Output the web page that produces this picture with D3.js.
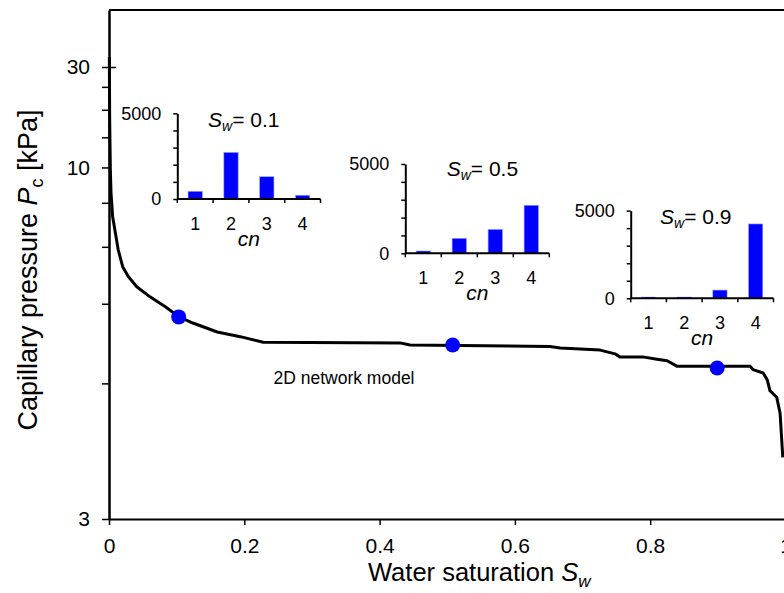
<!DOCTYPE html>
<html>
<head>
<meta charset="utf-8">
<script src="https://cdn.jsdelivr.net/npm/d3@7"></script>
<style>
  body { margin: 0; background: #fff; }
  svg { display: block; font-family: "Liberation Sans", Arial, sans-serif; }
</style>
</head>
<body>
<svg id="chart" width="784" height="593"></svg>
<script>
// =================================================================
// DATA
// =================================================================
const swCurve = [0.0005, 0.001, 0.002, 0.003, 0.0054, 0.0137, 0.0202, 0.0285, 0.041, 0.0606,
                 0.0828, 0.1035, 0.124, 0.160, 0.194, 0.228, 0.430, 0.445, 0.652, 0.667,
                 0.726, 0.748, 0.755, 0.789, 0.810, 0.825, 0.840, 0.948, 0.952, 0.967,
                 0.973, 0.977, 0.987, 0.992, 0.996];
const pcCurve = [37.4, 14.6, 9.83, 8.55, 7.53, 6.46, 6.03, 5.80, 5.58, 5.38,
                 5.20, 5.02, 4.92, 4.78, 4.71, 4.63, 4.62, 4.59, 4.57, 4.55,
                 4.52, 4.47, 4.43, 4.43, 4.40, 4.38, 4.31, 4.31, 4.27, 4.23,
                 4.15, 4.03, 3.96, 3.80, 3.42];

const swDots = [0.103, 0.508, 0.899];
const pcDots = [5.02, 4.59, 4.29];

const cnCategories = ["1", "2", "3", "4"];
const countsSw01 = [450, 2720, 1300, 220];
const countsSw05 = [130, 840, 1340, 2690];
const countsSw09 = [70, 70, 470, 4240];
const insetSw = ["0.1", "0.5", "0.9"];

const xTicks = [0, 0.2, 0.4, 0.6, 0.8, 1];
const yMajorTicks = [3, 10, 30];
const yMinorTicks = [4.11, 5.25, 6.55, 8.1, 12.5, 16.2, 21.5];
const insetTicks = [0, 1000, 2000, 3000, 4000, 5000];

// =================================================================
// MAIN CHART
// =================================================================
const svg = d3.select("#chart");
const plotLeft = 109, plotRight = 785.5, plotTop = 10, plotBottom = 519;

const x = d3.scaleLinear().domain([0, 1]).range([plotLeft, plotRight]);
// vertical axis is linear in 1/Pc
const yInv = d3.scaleLinear().domain([1 / 3, -0.0045]).range([plotBottom, plotTop]);
const y = p => yInv(1 / p);

// frame
svg.append("line")
    .attr("x1", plotLeft).attr("x2", plotRight).attr("y1", plotTop).attr("y2", plotTop)
    .attr("stroke", "#000").attr("stroke-width", 2);
svg.append("line")
    .attr("x1", plotRight).attr("x2", plotRight).attr("y1", plotTop).attr("y2", plotBottom)
    .attr("stroke", "#000").attr("stroke-width", 2);

// x axis
const xAxis = svg.append("g")
    .attr("transform", `translate(0,${plotBottom})`)
    .call(d3.axisBottom(x).tickValues(xTicks).tickSize(6).tickSizeOuter(0).tickPadding(13)
        .tickFormat(d => d3.format("")(d)));
xAxis.selectAll("text").attr("font-size", 21).attr("fill", "#000").attr("font-family", null);

// y axis: minor ticks first, then majors with labels
svg.append("g")
    .attr("transform", `translate(${plotLeft},0)`)
    .call(d3.axisLeft(yInv).tickValues(yMinorTicks.map(p => 1 / p)).tickSize(7).tickSizeOuter(0).tickFormat(""));
const yAxis = svg.append("g")
    .attr("transform", `translate(${plotLeft},0)`)
    .call(d3.axisLeft(yInv).tickValues(yMajorTicks.map(p => 1 / p)).tickSize(7).tickSizeOuter(0).tickPadding(12)
        .tickFormat(d => Math.round(1 / d)));
yAxis.selectAll("text").attr("font-size", 21).attr("fill", "#000").attr("font-family", null);
// the top major tick crosses the axis
yAxis.selectAll(".tick line").attr("x2", d => Math.round(1 / d) === 30 ? 7 : 0).attr("x1", -7);

svg.selectAll(".domain").attr("stroke-width", 2);
svg.selectAll(".tick line").attr("stroke-width", 1.5);

// curve
const curveData = swCurve.map((s, i) => [s, pcCurve[i]]);
svg.append("path")
    .datum(curveData)
    .attr("fill", "none")
    .attr("stroke", "#000")
    .attr("stroke-width", 3)
    .attr("stroke-linejoin", "round")
    .attr("d", d3.line().x(d => x(d[0])).y(d => y(d[1])));

svg.selectAll("circle.dot")
    .data(swDots.map((s, i) => [s, pcDots[i]]))
    .join("circle")
    .attr("class", "dot")
    .attr("cx", d => x(d[0]))
    .attr("cy", d => y(d[1]))
    .attr("r", 7.5)
    .attr("fill", "#0000ff");

svg.append("text")
    .attr("x", 344).attr("y", 384)
    .attr("text-anchor", "middle")
    .attr("font-size", 17.5)
    .text("2D network model");

// axis titles
const xTitle = svg.append("text")
    .attr("x", 368).attr("y", 581)
    .attr("font-size", 25.5);
xTitle.append("tspan").text("Water saturation ");
xTitle.append("tspan").attr("font-style", "italic").text("S");
xTitle.append("tspan").attr("font-style", "italic").attr("font-size", 17).attr("dy", 6).text("w");

const yTitle = svg.append("text")
    .attr("transform", "translate(37,270) rotate(-90)")
    .attr("text-anchor", "middle")
    .attr("font-size", 27);
yTitle.append("tspan").text("Capillary pressure ");
yTitle.append("tspan").attr("font-style", "italic").text("P");
yTitle.append("tspan").attr("font-size", 18).attr("dy", 6).text("c");
yTitle.append("tspan").attr("dy", -6).text(" [kPa]");

// =================================================================
// INSET HISTOGRAMS
// =================================================================
const insetCounts = [countsSw01, countsSw05, countsSw09];
const insetLayout = [
    { x0: 177.3, y0: 199, h: 85.7, w: 143.2, titleX: 208, titleY: 127 },
    { x0: 405.3, y0: 253.3, h: 89.3, w: 144, titleX: 446.7, titleY: 176 },
    { x0: 630.7, y0: 298.3, h: 87.7, w: 142.8, titleX: 660, titleY: 224 }
];

insetLayout.forEach((L, k) => {
    const g = svg.append("g");
    const xb = d3.scaleBand().domain(cnCategories).range([L.x0, L.x0 + L.w])
        .paddingInner(0.6).paddingOuter(0.3);
    const yb = d3.scaleLinear().domain([0, 5000]).range([L.y0, L.y0 - L.h]);

    g.selectAll("rect")
        .data(insetCounts[k])
        .join("rect")
        .attr("x", (d, i) => xb(cnCategories[i]))
        .attr("width", xb.bandwidth())
        .attr("y", d => yb(d))
        .attr("height", d => L.y0 - yb(d))
        .attr("fill", "#0000ff")
        .attr("stroke", "#9fa6ff")
        .attr("stroke-width", 0.6);

    const ya = g.append("g")
        .attr("transform", `translate(${L.x0},0)`)
        .call(d3.axisLeft(yb).tickValues(insetTicks).tickSize(4).tickSizeOuter(0).tickPadding(12)
            .tickFormat(d => (d === 0 || d === 5000) ? d : ""));
    ya.selectAll("text").attr("font-size", 18).attr("fill", "#000").attr("font-family", null);

    const xa = g.append("g")
        .attr("transform", `translate(0,${L.y0})`)
        .call(d3.axisBottom(xb).tickSize(0).tickPadding(18));
    xa.selectAll("text").attr("font-size", 18).attr("fill", "#000").attr("font-family", null);
    xa.select(".domain").attr("d", `M${L.x0},0H${L.x0 + L.w}`);

    // category boundary ticks
    g.selectAll("line.cb")
        .data(d3.range(cnCategories.length + 1))
        .join("line")
        .attr("class", "cb")
        .attr("x1", i => L.x0 + i * xb.step()).attr("x2", i => L.x0 + i * xb.step())
        .attr("y1", L.y0).attr("y2", L.y0 + 4)
        .attr("stroke", "#000").attr("stroke-width", 1.5);

    g.selectAll(".domain").attr("stroke-width", 2);
    g.selectAll(".tick line").attr("stroke-width", 1.5);

    g.append("text")
        .attr("x", L.x0 + 2 * xb.step()).attr("y", L.y0 + 47)
        .attr("text-anchor", "middle")
        .attr("font-size", 21)
        .attr("font-style", "italic")
        .text("cn");

    const t = g.append("text")
        .attr("x", L.titleX).attr("y", L.titleY)
        .attr("font-size", 21);
    t.append("tspan").attr("font-style", "italic").text("S");
    t.append("tspan").attr("font-style", "italic").attr("font-size", 14).attr("dy", 4).text("w");
    t.append("tspan").attr("dy", -4).text("= " + insetSw[k]);
});
</script>
</body>
</html>
